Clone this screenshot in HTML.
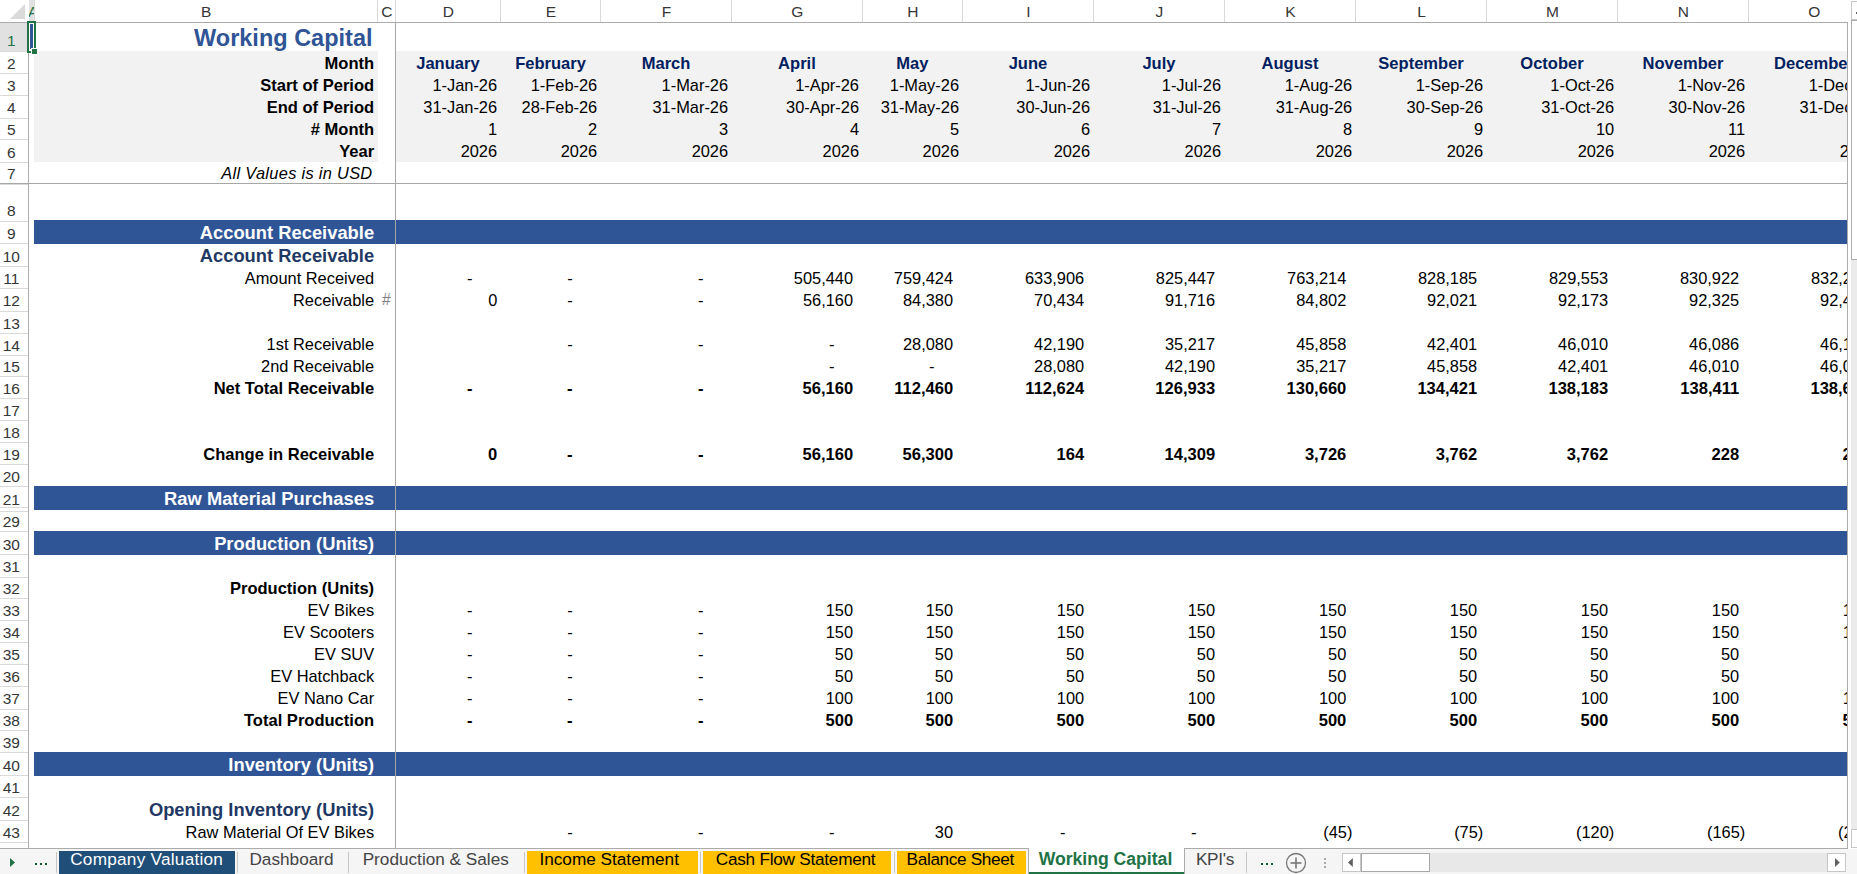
<!DOCTYPE html>
<html><head><meta charset="utf-8"><title>Working Capital</title>
<style>
html,body{margin:0;padding:0;background:#fff;}
body{width:1857px;height:874px;position:relative;overflow:hidden;font-family:"Liberation Sans",sans-serif;}
.r{position:absolute;box-sizing:border-box;}
.t{position:absolute;white-space:nowrap;overflow:visible;}
#cells{position:absolute;left:0;top:0;width:1847.4px;height:848.2px;overflow:hidden;}
.h{position:absolute;text-align:center;font-size:15.5px;line-height:17px;color:#363636;white-space:nowrap;}
.rh{position:absolute;left:0;width:22.6px;text-align:center;font-size:15.5px;line-height:17px;}
.tab{position:absolute;top:850px;text-align:center;font-size:17.2px;line-height:19px;white-space:nowrap;}
</style></head><body>
<div id="cells">
<div class="r" style="left:34.00px;top:51.10px;width:343.50px;height:110.60px;background:#f2f2f2;"></div>
<div class="r" style="left:396.00px;top:51.10px;width:1451.40px;height:110.60px;background:#f2f2f2;"></div>
<div class="r" style="left:34.00px;top:220.00px;width:1813.40px;height:24.00px;background:#2f5597;"></div>
<div class="r" style="left:34.00px;top:486.00px;width:1813.40px;height:24.00px;background:#2f5597;"></div>
<div class="r" style="left:34.00px;top:531.00px;width:1813.40px;height:24.00px;background:#2f5597;"></div>
<div class="r" style="left:34.00px;top:752.00px;width:1813.40px;height:24.00px;background:#2f5597;"></div>
<div class="t" style="left:34.00px;width:343.50px;top:24.53px;font-size:23.5px;line-height:27.02px;color:#2f5597;font-weight:bold;text-align:right;padding-right:5.0px;box-sizing:border-box;">Working Capital</div>
<div class="t" style="left:34.00px;width:343.50px;top:53.72px;font-size:16.55px;line-height:19.03px;color:#000;font-weight:bold;text-align:right;padding-right:3.4px;box-sizing:border-box;">Month</div>
<div class="t" style="left:34.00px;width:343.50px;top:76.02px;font-size:16.55px;line-height:19.03px;color:#000;font-weight:bold;text-align:right;padding-right:3.4px;box-sizing:border-box;">Start of Period</div>
<div class="t" style="left:34.00px;width:343.50px;top:98.12px;font-size:16.55px;line-height:19.03px;color:#000;font-weight:bold;text-align:right;padding-right:3.4px;box-sizing:border-box;">End of Period</div>
<div class="t" style="left:34.00px;width:343.50px;top:120.02px;font-size:16.55px;line-height:19.03px;color:#000;font-weight:bold;text-align:right;padding-right:3.4px;box-sizing:border-box;"># Month</div>
<div class="t" style="left:34.00px;width:343.50px;top:142.22px;font-size:16.55px;line-height:19.03px;color:#000;font-weight:bold;text-align:right;padding-right:3.4px;box-sizing:border-box;">Year</div>
<div class="t" style="left:34.00px;width:343.50px;top:164.26px;font-size:16.4px;line-height:18.86px;color:#000;font-style:italic;text-align:right;padding-right:5px;box-sizing:border-box;letter-spacing:0.3px;">All Values is in USD</div>
<div class="t" style="left:395.40px;width:105.10px;top:53.72px;font-size:16.55px;line-height:19.03px;color:#002060;font-weight:bold;text-align:center;">January</div>
<div class="t" style="left:395.40px;width:105.10px;top:76.16px;font-size:16.4px;line-height:18.86px;color:#000;text-align:right;padding-right:3.4px;box-sizing:border-box;">1-Jan-26</div>
<div class="t" style="left:395.40px;width:105.10px;top:98.26px;font-size:16.4px;line-height:18.86px;color:#000;text-align:right;padding-right:3.4px;box-sizing:border-box;">31-Jan-26</div>
<div class="t" style="left:395.40px;width:105.10px;top:120.16px;font-size:16.4px;line-height:18.86px;color:#000;text-align:right;padding-right:3.4px;box-sizing:border-box;">1</div>
<div class="t" style="left:395.40px;width:105.10px;top:142.36px;font-size:16.4px;line-height:18.86px;color:#000;text-align:right;padding-right:3.4px;box-sizing:border-box;">2026</div>
<div class="t" style="left:500.50px;width:100.10px;top:53.72px;font-size:16.55px;line-height:19.03px;color:#002060;font-weight:bold;text-align:center;">February</div>
<div class="t" style="left:500.50px;width:100.10px;top:76.16px;font-size:16.4px;line-height:18.86px;color:#000;text-align:right;padding-right:3.4px;box-sizing:border-box;">1-Feb-26</div>
<div class="t" style="left:500.50px;width:100.10px;top:98.26px;font-size:16.4px;line-height:18.86px;color:#000;text-align:right;padding-right:3.4px;box-sizing:border-box;">28-Feb-26</div>
<div class="t" style="left:500.50px;width:100.10px;top:120.16px;font-size:16.4px;line-height:18.86px;color:#000;text-align:right;padding-right:3.4px;box-sizing:border-box;">2</div>
<div class="t" style="left:500.50px;width:100.10px;top:142.36px;font-size:16.4px;line-height:18.86px;color:#000;text-align:right;padding-right:3.4px;box-sizing:border-box;">2026</div>
<div class="t" style="left:600.60px;width:130.90px;top:53.72px;font-size:16.55px;line-height:19.03px;color:#002060;font-weight:bold;text-align:center;">March</div>
<div class="t" style="left:600.60px;width:130.90px;top:76.16px;font-size:16.4px;line-height:18.86px;color:#000;text-align:right;padding-right:3.4px;box-sizing:border-box;">1-Mar-26</div>
<div class="t" style="left:600.60px;width:130.90px;top:98.26px;font-size:16.4px;line-height:18.86px;color:#000;text-align:right;padding-right:3.4px;box-sizing:border-box;">31-Mar-26</div>
<div class="t" style="left:600.60px;width:130.90px;top:120.16px;font-size:16.4px;line-height:18.86px;color:#000;text-align:right;padding-right:3.4px;box-sizing:border-box;">3</div>
<div class="t" style="left:600.60px;width:130.90px;top:142.36px;font-size:16.4px;line-height:18.86px;color:#000;text-align:right;padding-right:3.4px;box-sizing:border-box;">2026</div>
<div class="t" style="left:731.50px;width:130.90px;top:53.72px;font-size:16.55px;line-height:19.03px;color:#002060;font-weight:bold;text-align:center;">April</div>
<div class="t" style="left:731.50px;width:130.90px;top:76.16px;font-size:16.4px;line-height:18.86px;color:#000;text-align:right;padding-right:3.4px;box-sizing:border-box;">1-Apr-26</div>
<div class="t" style="left:731.50px;width:130.90px;top:98.26px;font-size:16.4px;line-height:18.86px;color:#000;text-align:right;padding-right:3.4px;box-sizing:border-box;">30-Apr-26</div>
<div class="t" style="left:731.50px;width:130.90px;top:120.16px;font-size:16.4px;line-height:18.86px;color:#000;text-align:right;padding-right:3.4px;box-sizing:border-box;">4</div>
<div class="t" style="left:731.50px;width:130.90px;top:142.36px;font-size:16.4px;line-height:18.86px;color:#000;text-align:right;padding-right:3.4px;box-sizing:border-box;">2026</div>
<div class="t" style="left:862.40px;width:100.00px;top:53.72px;font-size:16.55px;line-height:19.03px;color:#002060;font-weight:bold;text-align:center;">May</div>
<div class="t" style="left:862.40px;width:100.00px;top:76.16px;font-size:16.4px;line-height:18.86px;color:#000;text-align:right;padding-right:3.4px;box-sizing:border-box;">1-May-26</div>
<div class="t" style="left:862.40px;width:100.00px;top:98.26px;font-size:16.4px;line-height:18.86px;color:#000;text-align:right;padding-right:3.4px;box-sizing:border-box;">31-May-26</div>
<div class="t" style="left:862.40px;width:100.00px;top:120.16px;font-size:16.4px;line-height:18.86px;color:#000;text-align:right;padding-right:3.4px;box-sizing:border-box;">5</div>
<div class="t" style="left:862.40px;width:100.00px;top:142.36px;font-size:16.4px;line-height:18.86px;color:#000;text-align:right;padding-right:3.4px;box-sizing:border-box;">2026</div>
<div class="t" style="left:962.40px;width:131.10px;top:53.72px;font-size:16.55px;line-height:19.03px;color:#002060;font-weight:bold;text-align:center;">June</div>
<div class="t" style="left:962.40px;width:131.10px;top:76.16px;font-size:16.4px;line-height:18.86px;color:#000;text-align:right;padding-right:3.4px;box-sizing:border-box;">1-Jun-26</div>
<div class="t" style="left:962.40px;width:131.10px;top:98.26px;font-size:16.4px;line-height:18.86px;color:#000;text-align:right;padding-right:3.4px;box-sizing:border-box;">30-Jun-26</div>
<div class="t" style="left:962.40px;width:131.10px;top:120.16px;font-size:16.4px;line-height:18.86px;color:#000;text-align:right;padding-right:3.4px;box-sizing:border-box;">6</div>
<div class="t" style="left:962.40px;width:131.10px;top:142.36px;font-size:16.4px;line-height:18.86px;color:#000;text-align:right;padding-right:3.4px;box-sizing:border-box;">2026</div>
<div class="t" style="left:1093.50px;width:130.90px;top:53.72px;font-size:16.55px;line-height:19.03px;color:#002060;font-weight:bold;text-align:center;">July</div>
<div class="t" style="left:1093.50px;width:130.90px;top:76.16px;font-size:16.4px;line-height:18.86px;color:#000;text-align:right;padding-right:3.4px;box-sizing:border-box;">1-Jul-26</div>
<div class="t" style="left:1093.50px;width:130.90px;top:98.26px;font-size:16.4px;line-height:18.86px;color:#000;text-align:right;padding-right:3.4px;box-sizing:border-box;">31-Jul-26</div>
<div class="t" style="left:1093.50px;width:130.90px;top:120.16px;font-size:16.4px;line-height:18.86px;color:#000;text-align:right;padding-right:3.4px;box-sizing:border-box;">7</div>
<div class="t" style="left:1093.50px;width:130.90px;top:142.36px;font-size:16.4px;line-height:18.86px;color:#000;text-align:right;padding-right:3.4px;box-sizing:border-box;">2026</div>
<div class="t" style="left:1224.40px;width:131.20px;top:53.72px;font-size:16.55px;line-height:19.03px;color:#002060;font-weight:bold;text-align:center;">August</div>
<div class="t" style="left:1224.40px;width:131.20px;top:76.16px;font-size:16.4px;line-height:18.86px;color:#000;text-align:right;padding-right:3.4px;box-sizing:border-box;">1-Aug-26</div>
<div class="t" style="left:1224.40px;width:131.20px;top:98.26px;font-size:16.4px;line-height:18.86px;color:#000;text-align:right;padding-right:3.4px;box-sizing:border-box;">31-Aug-26</div>
<div class="t" style="left:1224.40px;width:131.20px;top:120.16px;font-size:16.4px;line-height:18.86px;color:#000;text-align:right;padding-right:3.4px;box-sizing:border-box;">8</div>
<div class="t" style="left:1224.40px;width:131.20px;top:142.36px;font-size:16.4px;line-height:18.86px;color:#000;text-align:right;padding-right:3.4px;box-sizing:border-box;">2026</div>
<div class="t" style="left:1355.60px;width:130.90px;top:53.72px;font-size:16.55px;line-height:19.03px;color:#002060;font-weight:bold;text-align:center;">September</div>
<div class="t" style="left:1355.60px;width:130.90px;top:76.16px;font-size:16.4px;line-height:18.86px;color:#000;text-align:right;padding-right:3.4px;box-sizing:border-box;">1-Sep-26</div>
<div class="t" style="left:1355.60px;width:130.90px;top:98.26px;font-size:16.4px;line-height:18.86px;color:#000;text-align:right;padding-right:3.4px;box-sizing:border-box;">30-Sep-26</div>
<div class="t" style="left:1355.60px;width:130.90px;top:120.16px;font-size:16.4px;line-height:18.86px;color:#000;text-align:right;padding-right:3.4px;box-sizing:border-box;">9</div>
<div class="t" style="left:1355.60px;width:130.90px;top:142.36px;font-size:16.4px;line-height:18.86px;color:#000;text-align:right;padding-right:3.4px;box-sizing:border-box;">2026</div>
<div class="t" style="left:1486.50px;width:131.00px;top:53.72px;font-size:16.55px;line-height:19.03px;color:#002060;font-weight:bold;text-align:center;">October</div>
<div class="t" style="left:1486.50px;width:131.00px;top:76.16px;font-size:16.4px;line-height:18.86px;color:#000;text-align:right;padding-right:3.4px;box-sizing:border-box;">1-Oct-26</div>
<div class="t" style="left:1486.50px;width:131.00px;top:98.26px;font-size:16.4px;line-height:18.86px;color:#000;text-align:right;padding-right:3.4px;box-sizing:border-box;">31-Oct-26</div>
<div class="t" style="left:1486.50px;width:131.00px;top:120.16px;font-size:16.4px;line-height:18.86px;color:#000;text-align:right;padding-right:3.4px;box-sizing:border-box;">10</div>
<div class="t" style="left:1486.50px;width:131.00px;top:142.36px;font-size:16.4px;line-height:18.86px;color:#000;text-align:right;padding-right:3.4px;box-sizing:border-box;">2026</div>
<div class="t" style="left:1617.50px;width:131.00px;top:53.72px;font-size:16.55px;line-height:19.03px;color:#002060;font-weight:bold;text-align:center;">November</div>
<div class="t" style="left:1617.50px;width:131.00px;top:76.16px;font-size:16.4px;line-height:18.86px;color:#000;text-align:right;padding-right:3.4px;box-sizing:border-box;">1-Nov-26</div>
<div class="t" style="left:1617.50px;width:131.00px;top:98.26px;font-size:16.4px;line-height:18.86px;color:#000;text-align:right;padding-right:3.4px;box-sizing:border-box;">30-Nov-26</div>
<div class="t" style="left:1617.50px;width:131.00px;top:120.16px;font-size:16.4px;line-height:18.86px;color:#000;text-align:right;padding-right:3.4px;box-sizing:border-box;">11</div>
<div class="t" style="left:1617.50px;width:131.00px;top:142.36px;font-size:16.4px;line-height:18.86px;color:#000;text-align:right;padding-right:3.4px;box-sizing:border-box;">2026</div>
<div class="t" style="left:1748.50px;width:131.00px;top:53.72px;font-size:16.55px;line-height:19.03px;color:#002060;font-weight:bold;text-align:center;">December</div>
<div class="t" style="left:1748.50px;width:131.00px;top:76.16px;font-size:16.4px;line-height:18.86px;color:#000;text-align:right;padding-right:3.4px;box-sizing:border-box;">1-Dec-26</div>
<div class="t" style="left:1748.50px;width:131.00px;top:98.26px;font-size:16.4px;line-height:18.86px;color:#000;text-align:right;padding-right:3.4px;box-sizing:border-box;">31-Dec-26</div>
<div class="t" style="left:1748.50px;width:131.00px;top:120.16px;font-size:16.4px;line-height:18.86px;color:#000;text-align:right;padding-right:3.4px;box-sizing:border-box;">12</div>
<div class="t" style="left:1748.50px;width:131.00px;top:142.36px;font-size:16.4px;line-height:18.86px;color:#000;text-align:right;padding-right:3.4px;box-sizing:border-box;">2026</div>
<div class="t" style="left:34.00px;width:343.50px;top:222.29px;font-size:18.35px;line-height:21.10px;color:#fff;font-weight:bold;text-align:right;padding-right:3.4px;box-sizing:border-box;">Account Receivable</div>
<div class="t" style="left:34.00px;width:343.50px;top:488.29px;font-size:18.35px;line-height:21.10px;color:#fff;font-weight:bold;text-align:right;padding-right:3.4px;box-sizing:border-box;">Raw Material Purchases</div>
<div class="t" style="left:34.00px;width:343.50px;top:533.39px;font-size:18.35px;line-height:21.10px;color:#fff;font-weight:bold;text-align:right;padding-right:3.4px;box-sizing:border-box;">Production (Units)</div>
<div class="t" style="left:34.00px;width:343.50px;top:753.79px;font-size:18.35px;line-height:21.10px;color:#fff;font-weight:bold;text-align:right;padding-right:3.4px;box-sizing:border-box;">Inventory (Units)</div>
<div class="t" style="left:34.00px;width:343.50px;top:244.99px;font-size:18.35px;line-height:21.10px;color:#1f3864;font-weight:bold;text-align:right;padding-right:3.4px;box-sizing:border-box;">Account Receivable</div>
<div class="t" style="left:34.00px;width:343.50px;top:798.89px;font-size:18.35px;line-height:21.10px;color:#1f3864;font-weight:bold;text-align:right;padding-right:3.4px;box-sizing:border-box;">Opening Inventory (Units)</div>
<div class="t" style="left:34.00px;width:343.50px;top:269.06px;font-size:16.4px;line-height:18.86px;color:#000;text-align:right;padding-right:3.4px;box-sizing:border-box;">Amount Received</div>
<div class="t" style="left:395.40px;width:105.10px;top:269.06px;font-size:16.4px;line-height:18.86px;color:#000;text-align:right;padding-right:28.0px;box-sizing:border-box;">-</div>
<div class="t" style="left:500.50px;width:100.10px;top:269.06px;font-size:16.4px;line-height:18.86px;color:#000;text-align:right;padding-right:28.0px;box-sizing:border-box;">-</div>
<div class="t" style="left:600.60px;width:130.90px;top:269.06px;font-size:16.4px;line-height:18.86px;color:#000;text-align:right;padding-right:28.0px;box-sizing:border-box;">-</div>
<div class="t" style="left:731.50px;width:130.90px;top:269.06px;font-size:16.4px;line-height:18.86px;color:#000;text-align:right;padding-right:9.3px;box-sizing:border-box;">505,440</div>
<div class="t" style="left:862.40px;width:100.00px;top:269.06px;font-size:16.4px;line-height:18.86px;color:#000;text-align:right;padding-right:9.3px;box-sizing:border-box;">759,424</div>
<div class="t" style="left:962.40px;width:131.10px;top:269.06px;font-size:16.4px;line-height:18.86px;color:#000;text-align:right;padding-right:9.3px;box-sizing:border-box;">633,906</div>
<div class="t" style="left:1093.50px;width:130.90px;top:269.06px;font-size:16.4px;line-height:18.86px;color:#000;text-align:right;padding-right:9.3px;box-sizing:border-box;">825,447</div>
<div class="t" style="left:1224.40px;width:131.20px;top:269.06px;font-size:16.4px;line-height:18.86px;color:#000;text-align:right;padding-right:9.3px;box-sizing:border-box;">763,214</div>
<div class="t" style="left:1355.60px;width:130.90px;top:269.06px;font-size:16.4px;line-height:18.86px;color:#000;text-align:right;padding-right:9.3px;box-sizing:border-box;">828,185</div>
<div class="t" style="left:1486.50px;width:131.00px;top:269.06px;font-size:16.4px;line-height:18.86px;color:#000;text-align:right;padding-right:9.3px;box-sizing:border-box;">829,553</div>
<div class="t" style="left:1617.50px;width:131.00px;top:269.06px;font-size:16.4px;line-height:18.86px;color:#000;text-align:right;padding-right:9.3px;box-sizing:border-box;">830,922</div>
<div class="t" style="left:1748.50px;width:131.00px;top:269.06px;font-size:16.4px;line-height:18.86px;color:#000;text-align:right;padding-right:9.3px;box-sizing:border-box;">832,291</div>
<div class="t" style="left:34.00px;width:343.50px;top:291.26px;font-size:16.4px;line-height:18.86px;color:#000;text-align:right;padding-right:3.4px;box-sizing:border-box;">Receivable</div>
<div class="t" style="left:395.40px;width:105.10px;top:291.26px;font-size:16.4px;line-height:18.86px;color:#000;text-align:right;padding-right:3.2px;box-sizing:border-box;">0</div>
<div class="t" style="left:500.50px;width:100.10px;top:291.26px;font-size:16.4px;line-height:18.86px;color:#000;text-align:right;padding-right:28.0px;box-sizing:border-box;">-</div>
<div class="t" style="left:600.60px;width:130.90px;top:291.26px;font-size:16.4px;line-height:18.86px;color:#000;text-align:right;padding-right:28.0px;box-sizing:border-box;">-</div>
<div class="t" style="left:731.50px;width:130.90px;top:291.26px;font-size:16.4px;line-height:18.86px;color:#000;text-align:right;padding-right:9.3px;box-sizing:border-box;">56,160</div>
<div class="t" style="left:862.40px;width:100.00px;top:291.26px;font-size:16.4px;line-height:18.86px;color:#000;text-align:right;padding-right:9.3px;box-sizing:border-box;">84,380</div>
<div class="t" style="left:962.40px;width:131.10px;top:291.26px;font-size:16.4px;line-height:18.86px;color:#000;text-align:right;padding-right:9.3px;box-sizing:border-box;">70,434</div>
<div class="t" style="left:1093.50px;width:130.90px;top:291.26px;font-size:16.4px;line-height:18.86px;color:#000;text-align:right;padding-right:9.3px;box-sizing:border-box;">91,716</div>
<div class="t" style="left:1224.40px;width:131.20px;top:291.26px;font-size:16.4px;line-height:18.86px;color:#000;text-align:right;padding-right:9.3px;box-sizing:border-box;">84,802</div>
<div class="t" style="left:1355.60px;width:130.90px;top:291.26px;font-size:16.4px;line-height:18.86px;color:#000;text-align:right;padding-right:9.3px;box-sizing:border-box;">92,021</div>
<div class="t" style="left:1486.50px;width:131.00px;top:291.26px;font-size:16.4px;line-height:18.86px;color:#000;text-align:right;padding-right:9.3px;box-sizing:border-box;">92,173</div>
<div class="t" style="left:1617.50px;width:131.00px;top:291.26px;font-size:16.4px;line-height:18.86px;color:#000;text-align:right;padding-right:9.3px;box-sizing:border-box;">92,325</div>
<div class="t" style="left:1748.50px;width:131.00px;top:291.26px;font-size:16.4px;line-height:18.86px;color:#000;text-align:right;padding-right:9.3px;box-sizing:border-box;">92,477</div>
<div class="t" style="left:377.50px;width:17.90px;top:290.98px;font-size:15.6px;line-height:17.94px;color:#808080;text-align:left;padding-left:4.6px;box-sizing:border-box;">#</div>
<div class="t" style="left:34.00px;width:343.50px;top:335.36px;font-size:16.4px;line-height:18.86px;color:#000;text-align:right;padding-right:3.4px;box-sizing:border-box;">1st Receivable</div>
<div class="t" style="left:500.50px;width:100.10px;top:335.36px;font-size:16.4px;line-height:18.86px;color:#000;text-align:right;padding-right:28.0px;box-sizing:border-box;">-</div>
<div class="t" style="left:600.60px;width:130.90px;top:335.36px;font-size:16.4px;line-height:18.86px;color:#000;text-align:right;padding-right:28.0px;box-sizing:border-box;">-</div>
<div class="t" style="left:731.50px;width:130.90px;top:335.36px;font-size:16.4px;line-height:18.86px;color:#000;text-align:right;padding-right:28.0px;box-sizing:border-box;">-</div>
<div class="t" style="left:862.40px;width:100.00px;top:335.36px;font-size:16.4px;line-height:18.86px;color:#000;text-align:right;padding-right:9.3px;box-sizing:border-box;">28,080</div>
<div class="t" style="left:962.40px;width:131.10px;top:335.36px;font-size:16.4px;line-height:18.86px;color:#000;text-align:right;padding-right:9.3px;box-sizing:border-box;">42,190</div>
<div class="t" style="left:1093.50px;width:130.90px;top:335.36px;font-size:16.4px;line-height:18.86px;color:#000;text-align:right;padding-right:9.3px;box-sizing:border-box;">35,217</div>
<div class="t" style="left:1224.40px;width:131.20px;top:335.36px;font-size:16.4px;line-height:18.86px;color:#000;text-align:right;padding-right:9.3px;box-sizing:border-box;">45,858</div>
<div class="t" style="left:1355.60px;width:130.90px;top:335.36px;font-size:16.4px;line-height:18.86px;color:#000;text-align:right;padding-right:9.3px;box-sizing:border-box;">42,401</div>
<div class="t" style="left:1486.50px;width:131.00px;top:335.36px;font-size:16.4px;line-height:18.86px;color:#000;text-align:right;padding-right:9.3px;box-sizing:border-box;">46,010</div>
<div class="t" style="left:1617.50px;width:131.00px;top:335.36px;font-size:16.4px;line-height:18.86px;color:#000;text-align:right;padding-right:9.3px;box-sizing:border-box;">46,086</div>
<div class="t" style="left:1748.50px;width:131.00px;top:335.36px;font-size:16.4px;line-height:18.86px;color:#000;text-align:right;padding-right:9.3px;box-sizing:border-box;">46,162</div>
<div class="t" style="left:34.00px;width:343.50px;top:357.06px;font-size:16.4px;line-height:18.86px;color:#000;text-align:right;padding-right:3.4px;box-sizing:border-box;">2nd Receivable</div>
<div class="t" style="left:731.50px;width:130.90px;top:357.06px;font-size:16.4px;line-height:18.86px;color:#000;text-align:right;padding-right:28.0px;box-sizing:border-box;">-</div>
<div class="t" style="left:862.40px;width:100.00px;top:357.06px;font-size:16.4px;line-height:18.86px;color:#000;text-align:right;padding-right:28.0px;box-sizing:border-box;">-</div>
<div class="t" style="left:962.40px;width:131.10px;top:357.06px;font-size:16.4px;line-height:18.86px;color:#000;text-align:right;padding-right:9.3px;box-sizing:border-box;">28,080</div>
<div class="t" style="left:1093.50px;width:130.90px;top:357.06px;font-size:16.4px;line-height:18.86px;color:#000;text-align:right;padding-right:9.3px;box-sizing:border-box;">42,190</div>
<div class="t" style="left:1224.40px;width:131.20px;top:357.06px;font-size:16.4px;line-height:18.86px;color:#000;text-align:right;padding-right:9.3px;box-sizing:border-box;">35,217</div>
<div class="t" style="left:1355.60px;width:130.90px;top:357.06px;font-size:16.4px;line-height:18.86px;color:#000;text-align:right;padding-right:9.3px;box-sizing:border-box;">45,858</div>
<div class="t" style="left:1486.50px;width:131.00px;top:357.06px;font-size:16.4px;line-height:18.86px;color:#000;text-align:right;padding-right:9.3px;box-sizing:border-box;">42,401</div>
<div class="t" style="left:1617.50px;width:131.00px;top:357.06px;font-size:16.4px;line-height:18.86px;color:#000;text-align:right;padding-right:9.3px;box-sizing:border-box;">46,010</div>
<div class="t" style="left:1748.50px;width:131.00px;top:357.06px;font-size:16.4px;line-height:18.86px;color:#000;text-align:right;padding-right:9.3px;box-sizing:border-box;">46,086</div>
<div class="t" style="left:34.00px;width:343.50px;top:378.92px;font-size:16.55px;line-height:19.03px;color:#000;font-weight:bold;text-align:right;padding-right:3.4px;box-sizing:border-box;">Net Total Receivable</div>
<div class="t" style="left:395.40px;width:105.10px;top:378.92px;font-size:16.55px;line-height:19.03px;color:#000;font-weight:bold;text-align:right;padding-right:28.0px;box-sizing:border-box;">-</div>
<div class="t" style="left:500.50px;width:100.10px;top:378.92px;font-size:16.55px;line-height:19.03px;color:#000;font-weight:bold;text-align:right;padding-right:28.0px;box-sizing:border-box;">-</div>
<div class="t" style="left:600.60px;width:130.90px;top:378.92px;font-size:16.55px;line-height:19.03px;color:#000;font-weight:bold;text-align:right;padding-right:28.0px;box-sizing:border-box;">-</div>
<div class="t" style="left:731.50px;width:130.90px;top:378.92px;font-size:16.55px;line-height:19.03px;color:#000;font-weight:bold;text-align:right;padding-right:9.3px;box-sizing:border-box;">56,160</div>
<div class="t" style="left:862.40px;width:100.00px;top:378.92px;font-size:16.55px;line-height:19.03px;color:#000;font-weight:bold;text-align:right;padding-right:9.3px;box-sizing:border-box;">112,460</div>
<div class="t" style="left:962.40px;width:131.10px;top:378.92px;font-size:16.55px;line-height:19.03px;color:#000;font-weight:bold;text-align:right;padding-right:9.3px;box-sizing:border-box;">112,624</div>
<div class="t" style="left:1093.50px;width:130.90px;top:378.92px;font-size:16.55px;line-height:19.03px;color:#000;font-weight:bold;text-align:right;padding-right:9.3px;box-sizing:border-box;">126,933</div>
<div class="t" style="left:1224.40px;width:131.20px;top:378.92px;font-size:16.55px;line-height:19.03px;color:#000;font-weight:bold;text-align:right;padding-right:9.3px;box-sizing:border-box;">130,660</div>
<div class="t" style="left:1355.60px;width:130.90px;top:378.92px;font-size:16.55px;line-height:19.03px;color:#000;font-weight:bold;text-align:right;padding-right:9.3px;box-sizing:border-box;">134,421</div>
<div class="t" style="left:1486.50px;width:131.00px;top:378.92px;font-size:16.55px;line-height:19.03px;color:#000;font-weight:bold;text-align:right;padding-right:9.3px;box-sizing:border-box;">138,183</div>
<div class="t" style="left:1617.50px;width:131.00px;top:378.92px;font-size:16.55px;line-height:19.03px;color:#000;font-weight:bold;text-align:right;padding-right:9.3px;box-sizing:border-box;">138,411</div>
<div class="t" style="left:1748.50px;width:131.00px;top:378.92px;font-size:16.55px;line-height:19.03px;color:#000;font-weight:bold;text-align:right;padding-right:9.3px;box-sizing:border-box;">138,639</div>
<div class="t" style="left:34.00px;width:343.50px;top:444.72px;font-size:16.55px;line-height:19.03px;color:#000;font-weight:bold;text-align:right;padding-right:3.4px;box-sizing:border-box;">Change in Receivable</div>
<div class="t" style="left:395.40px;width:105.10px;top:444.72px;font-size:16.55px;line-height:19.03px;color:#000;font-weight:bold;text-align:right;padding-right:3.2px;box-sizing:border-box;">0</div>
<div class="t" style="left:500.50px;width:100.10px;top:444.72px;font-size:16.55px;line-height:19.03px;color:#000;font-weight:bold;text-align:right;padding-right:28.0px;box-sizing:border-box;">-</div>
<div class="t" style="left:600.60px;width:130.90px;top:444.72px;font-size:16.55px;line-height:19.03px;color:#000;font-weight:bold;text-align:right;padding-right:28.0px;box-sizing:border-box;">-</div>
<div class="t" style="left:731.50px;width:130.90px;top:444.72px;font-size:16.55px;line-height:19.03px;color:#000;font-weight:bold;text-align:right;padding-right:9.3px;box-sizing:border-box;">56,160</div>
<div class="t" style="left:862.40px;width:100.00px;top:444.72px;font-size:16.55px;line-height:19.03px;color:#000;font-weight:bold;text-align:right;padding-right:9.3px;box-sizing:border-box;">56,300</div>
<div class="t" style="left:962.40px;width:131.10px;top:444.72px;font-size:16.55px;line-height:19.03px;color:#000;font-weight:bold;text-align:right;padding-right:9.3px;box-sizing:border-box;">164</div>
<div class="t" style="left:1093.50px;width:130.90px;top:444.72px;font-size:16.55px;line-height:19.03px;color:#000;font-weight:bold;text-align:right;padding-right:9.3px;box-sizing:border-box;">14,309</div>
<div class="t" style="left:1224.40px;width:131.20px;top:444.72px;font-size:16.55px;line-height:19.03px;color:#000;font-weight:bold;text-align:right;padding-right:9.3px;box-sizing:border-box;">3,726</div>
<div class="t" style="left:1355.60px;width:130.90px;top:444.72px;font-size:16.55px;line-height:19.03px;color:#000;font-weight:bold;text-align:right;padding-right:9.3px;box-sizing:border-box;">3,762</div>
<div class="t" style="left:1486.50px;width:131.00px;top:444.72px;font-size:16.55px;line-height:19.03px;color:#000;font-weight:bold;text-align:right;padding-right:9.3px;box-sizing:border-box;">3,762</div>
<div class="t" style="left:1617.50px;width:131.00px;top:444.72px;font-size:16.55px;line-height:19.03px;color:#000;font-weight:bold;text-align:right;padding-right:9.3px;box-sizing:border-box;">228</div>
<div class="t" style="left:1748.50px;width:131.00px;top:444.72px;font-size:16.55px;line-height:19.03px;color:#000;font-weight:bold;text-align:right;padding-right:9.3px;box-sizing:border-box;">228</div>
<div class="t" style="left:34.00px;width:343.50px;top:578.82px;font-size:16.55px;line-height:19.03px;color:#000;font-weight:bold;text-align:right;padding-right:3.4px;box-sizing:border-box;">Production (Units)</div>
<div class="t" style="left:34.00px;width:343.50px;top:600.96px;font-size:16.4px;line-height:18.86px;color:#000;text-align:right;padding-right:3.4px;box-sizing:border-box;">EV Bikes</div>
<div class="t" style="left:395.40px;width:105.10px;top:600.96px;font-size:16.4px;line-height:18.86px;color:#000;text-align:right;padding-right:28.0px;box-sizing:border-box;">-</div>
<div class="t" style="left:500.50px;width:100.10px;top:600.96px;font-size:16.4px;line-height:18.86px;color:#000;text-align:right;padding-right:28.0px;box-sizing:border-box;">-</div>
<div class="t" style="left:600.60px;width:130.90px;top:600.96px;font-size:16.4px;line-height:18.86px;color:#000;text-align:right;padding-right:28.0px;box-sizing:border-box;">-</div>
<div class="t" style="left:731.50px;width:130.90px;top:600.96px;font-size:16.4px;line-height:18.86px;color:#000;text-align:right;padding-right:9.3px;box-sizing:border-box;">150</div>
<div class="t" style="left:862.40px;width:100.00px;top:600.96px;font-size:16.4px;line-height:18.86px;color:#000;text-align:right;padding-right:9.3px;box-sizing:border-box;">150</div>
<div class="t" style="left:962.40px;width:131.10px;top:600.96px;font-size:16.4px;line-height:18.86px;color:#000;text-align:right;padding-right:9.3px;box-sizing:border-box;">150</div>
<div class="t" style="left:1093.50px;width:130.90px;top:600.96px;font-size:16.4px;line-height:18.86px;color:#000;text-align:right;padding-right:9.3px;box-sizing:border-box;">150</div>
<div class="t" style="left:1224.40px;width:131.20px;top:600.96px;font-size:16.4px;line-height:18.86px;color:#000;text-align:right;padding-right:9.3px;box-sizing:border-box;">150</div>
<div class="t" style="left:1355.60px;width:130.90px;top:600.96px;font-size:16.4px;line-height:18.86px;color:#000;text-align:right;padding-right:9.3px;box-sizing:border-box;">150</div>
<div class="t" style="left:1486.50px;width:131.00px;top:600.96px;font-size:16.4px;line-height:18.86px;color:#000;text-align:right;padding-right:9.3px;box-sizing:border-box;">150</div>
<div class="t" style="left:1617.50px;width:131.00px;top:600.96px;font-size:16.4px;line-height:18.86px;color:#000;text-align:right;padding-right:9.3px;box-sizing:border-box;">150</div>
<div class="t" style="left:1748.50px;width:131.00px;top:600.96px;font-size:16.4px;line-height:18.86px;color:#000;text-align:right;padding-right:9.3px;box-sizing:border-box;">150</div>
<div class="t" style="left:34.00px;width:343.50px;top:623.06px;font-size:16.4px;line-height:18.86px;color:#000;text-align:right;padding-right:3.4px;box-sizing:border-box;">EV Scooters</div>
<div class="t" style="left:395.40px;width:105.10px;top:623.06px;font-size:16.4px;line-height:18.86px;color:#000;text-align:right;padding-right:28.0px;box-sizing:border-box;">-</div>
<div class="t" style="left:500.50px;width:100.10px;top:623.06px;font-size:16.4px;line-height:18.86px;color:#000;text-align:right;padding-right:28.0px;box-sizing:border-box;">-</div>
<div class="t" style="left:600.60px;width:130.90px;top:623.06px;font-size:16.4px;line-height:18.86px;color:#000;text-align:right;padding-right:28.0px;box-sizing:border-box;">-</div>
<div class="t" style="left:731.50px;width:130.90px;top:623.06px;font-size:16.4px;line-height:18.86px;color:#000;text-align:right;padding-right:9.3px;box-sizing:border-box;">150</div>
<div class="t" style="left:862.40px;width:100.00px;top:623.06px;font-size:16.4px;line-height:18.86px;color:#000;text-align:right;padding-right:9.3px;box-sizing:border-box;">150</div>
<div class="t" style="left:962.40px;width:131.10px;top:623.06px;font-size:16.4px;line-height:18.86px;color:#000;text-align:right;padding-right:9.3px;box-sizing:border-box;">150</div>
<div class="t" style="left:1093.50px;width:130.90px;top:623.06px;font-size:16.4px;line-height:18.86px;color:#000;text-align:right;padding-right:9.3px;box-sizing:border-box;">150</div>
<div class="t" style="left:1224.40px;width:131.20px;top:623.06px;font-size:16.4px;line-height:18.86px;color:#000;text-align:right;padding-right:9.3px;box-sizing:border-box;">150</div>
<div class="t" style="left:1355.60px;width:130.90px;top:623.06px;font-size:16.4px;line-height:18.86px;color:#000;text-align:right;padding-right:9.3px;box-sizing:border-box;">150</div>
<div class="t" style="left:1486.50px;width:131.00px;top:623.06px;font-size:16.4px;line-height:18.86px;color:#000;text-align:right;padding-right:9.3px;box-sizing:border-box;">150</div>
<div class="t" style="left:1617.50px;width:131.00px;top:623.06px;font-size:16.4px;line-height:18.86px;color:#000;text-align:right;padding-right:9.3px;box-sizing:border-box;">150</div>
<div class="t" style="left:1748.50px;width:131.00px;top:623.06px;font-size:16.4px;line-height:18.86px;color:#000;text-align:right;padding-right:9.3px;box-sizing:border-box;">150</div>
<div class="t" style="left:34.00px;width:343.50px;top:645.06px;font-size:16.4px;line-height:18.86px;color:#000;text-align:right;padding-right:3.4px;box-sizing:border-box;">EV SUV</div>
<div class="t" style="left:395.40px;width:105.10px;top:645.06px;font-size:16.4px;line-height:18.86px;color:#000;text-align:right;padding-right:28.0px;box-sizing:border-box;">-</div>
<div class="t" style="left:500.50px;width:100.10px;top:645.06px;font-size:16.4px;line-height:18.86px;color:#000;text-align:right;padding-right:28.0px;box-sizing:border-box;">-</div>
<div class="t" style="left:600.60px;width:130.90px;top:645.06px;font-size:16.4px;line-height:18.86px;color:#000;text-align:right;padding-right:28.0px;box-sizing:border-box;">-</div>
<div class="t" style="left:731.50px;width:130.90px;top:645.06px;font-size:16.4px;line-height:18.86px;color:#000;text-align:right;padding-right:9.3px;box-sizing:border-box;">50</div>
<div class="t" style="left:862.40px;width:100.00px;top:645.06px;font-size:16.4px;line-height:18.86px;color:#000;text-align:right;padding-right:9.3px;box-sizing:border-box;">50</div>
<div class="t" style="left:962.40px;width:131.10px;top:645.06px;font-size:16.4px;line-height:18.86px;color:#000;text-align:right;padding-right:9.3px;box-sizing:border-box;">50</div>
<div class="t" style="left:1093.50px;width:130.90px;top:645.06px;font-size:16.4px;line-height:18.86px;color:#000;text-align:right;padding-right:9.3px;box-sizing:border-box;">50</div>
<div class="t" style="left:1224.40px;width:131.20px;top:645.06px;font-size:16.4px;line-height:18.86px;color:#000;text-align:right;padding-right:9.3px;box-sizing:border-box;">50</div>
<div class="t" style="left:1355.60px;width:130.90px;top:645.06px;font-size:16.4px;line-height:18.86px;color:#000;text-align:right;padding-right:9.3px;box-sizing:border-box;">50</div>
<div class="t" style="left:1486.50px;width:131.00px;top:645.06px;font-size:16.4px;line-height:18.86px;color:#000;text-align:right;padding-right:9.3px;box-sizing:border-box;">50</div>
<div class="t" style="left:1617.50px;width:131.00px;top:645.06px;font-size:16.4px;line-height:18.86px;color:#000;text-align:right;padding-right:9.3px;box-sizing:border-box;">50</div>
<div class="t" style="left:1748.50px;width:131.00px;top:645.06px;font-size:16.4px;line-height:18.86px;color:#000;text-align:right;padding-right:9.3px;box-sizing:border-box;">50</div>
<div class="t" style="left:34.00px;width:343.50px;top:667.16px;font-size:16.4px;line-height:18.86px;color:#000;text-align:right;padding-right:3.4px;box-sizing:border-box;">EV Hatchback</div>
<div class="t" style="left:395.40px;width:105.10px;top:667.16px;font-size:16.4px;line-height:18.86px;color:#000;text-align:right;padding-right:28.0px;box-sizing:border-box;">-</div>
<div class="t" style="left:500.50px;width:100.10px;top:667.16px;font-size:16.4px;line-height:18.86px;color:#000;text-align:right;padding-right:28.0px;box-sizing:border-box;">-</div>
<div class="t" style="left:600.60px;width:130.90px;top:667.16px;font-size:16.4px;line-height:18.86px;color:#000;text-align:right;padding-right:28.0px;box-sizing:border-box;">-</div>
<div class="t" style="left:731.50px;width:130.90px;top:667.16px;font-size:16.4px;line-height:18.86px;color:#000;text-align:right;padding-right:9.3px;box-sizing:border-box;">50</div>
<div class="t" style="left:862.40px;width:100.00px;top:667.16px;font-size:16.4px;line-height:18.86px;color:#000;text-align:right;padding-right:9.3px;box-sizing:border-box;">50</div>
<div class="t" style="left:962.40px;width:131.10px;top:667.16px;font-size:16.4px;line-height:18.86px;color:#000;text-align:right;padding-right:9.3px;box-sizing:border-box;">50</div>
<div class="t" style="left:1093.50px;width:130.90px;top:667.16px;font-size:16.4px;line-height:18.86px;color:#000;text-align:right;padding-right:9.3px;box-sizing:border-box;">50</div>
<div class="t" style="left:1224.40px;width:131.20px;top:667.16px;font-size:16.4px;line-height:18.86px;color:#000;text-align:right;padding-right:9.3px;box-sizing:border-box;">50</div>
<div class="t" style="left:1355.60px;width:130.90px;top:667.16px;font-size:16.4px;line-height:18.86px;color:#000;text-align:right;padding-right:9.3px;box-sizing:border-box;">50</div>
<div class="t" style="left:1486.50px;width:131.00px;top:667.16px;font-size:16.4px;line-height:18.86px;color:#000;text-align:right;padding-right:9.3px;box-sizing:border-box;">50</div>
<div class="t" style="left:1617.50px;width:131.00px;top:667.16px;font-size:16.4px;line-height:18.86px;color:#000;text-align:right;padding-right:9.3px;box-sizing:border-box;">50</div>
<div class="t" style="left:1748.50px;width:131.00px;top:667.16px;font-size:16.4px;line-height:18.86px;color:#000;text-align:right;padding-right:9.3px;box-sizing:border-box;">50</div>
<div class="t" style="left:34.00px;width:343.50px;top:689.26px;font-size:16.4px;line-height:18.86px;color:#000;text-align:right;padding-right:3.4px;box-sizing:border-box;">EV Nano Car</div>
<div class="t" style="left:395.40px;width:105.10px;top:689.26px;font-size:16.4px;line-height:18.86px;color:#000;text-align:right;padding-right:28.0px;box-sizing:border-box;">-</div>
<div class="t" style="left:500.50px;width:100.10px;top:689.26px;font-size:16.4px;line-height:18.86px;color:#000;text-align:right;padding-right:28.0px;box-sizing:border-box;">-</div>
<div class="t" style="left:600.60px;width:130.90px;top:689.26px;font-size:16.4px;line-height:18.86px;color:#000;text-align:right;padding-right:28.0px;box-sizing:border-box;">-</div>
<div class="t" style="left:731.50px;width:130.90px;top:689.26px;font-size:16.4px;line-height:18.86px;color:#000;text-align:right;padding-right:9.3px;box-sizing:border-box;">100</div>
<div class="t" style="left:862.40px;width:100.00px;top:689.26px;font-size:16.4px;line-height:18.86px;color:#000;text-align:right;padding-right:9.3px;box-sizing:border-box;">100</div>
<div class="t" style="left:962.40px;width:131.10px;top:689.26px;font-size:16.4px;line-height:18.86px;color:#000;text-align:right;padding-right:9.3px;box-sizing:border-box;">100</div>
<div class="t" style="left:1093.50px;width:130.90px;top:689.26px;font-size:16.4px;line-height:18.86px;color:#000;text-align:right;padding-right:9.3px;box-sizing:border-box;">100</div>
<div class="t" style="left:1224.40px;width:131.20px;top:689.26px;font-size:16.4px;line-height:18.86px;color:#000;text-align:right;padding-right:9.3px;box-sizing:border-box;">100</div>
<div class="t" style="left:1355.60px;width:130.90px;top:689.26px;font-size:16.4px;line-height:18.86px;color:#000;text-align:right;padding-right:9.3px;box-sizing:border-box;">100</div>
<div class="t" style="left:1486.50px;width:131.00px;top:689.26px;font-size:16.4px;line-height:18.86px;color:#000;text-align:right;padding-right:9.3px;box-sizing:border-box;">100</div>
<div class="t" style="left:1617.50px;width:131.00px;top:689.26px;font-size:16.4px;line-height:18.86px;color:#000;text-align:right;padding-right:9.3px;box-sizing:border-box;">100</div>
<div class="t" style="left:1748.50px;width:131.00px;top:689.26px;font-size:16.4px;line-height:18.86px;color:#000;text-align:right;padding-right:9.3px;box-sizing:border-box;">100</div>
<div class="t" style="left:34.00px;width:343.50px;top:710.92px;font-size:16.55px;line-height:19.03px;color:#000;font-weight:bold;text-align:right;padding-right:3.4px;box-sizing:border-box;">Total Production</div>
<div class="t" style="left:395.40px;width:105.10px;top:710.92px;font-size:16.55px;line-height:19.03px;color:#000;font-weight:bold;text-align:right;padding-right:28.0px;box-sizing:border-box;">-</div>
<div class="t" style="left:500.50px;width:100.10px;top:710.92px;font-size:16.55px;line-height:19.03px;color:#000;font-weight:bold;text-align:right;padding-right:28.0px;box-sizing:border-box;">-</div>
<div class="t" style="left:600.60px;width:130.90px;top:710.92px;font-size:16.55px;line-height:19.03px;color:#000;font-weight:bold;text-align:right;padding-right:28.0px;box-sizing:border-box;">-</div>
<div class="t" style="left:731.50px;width:130.90px;top:710.92px;font-size:16.55px;line-height:19.03px;color:#000;font-weight:bold;text-align:right;padding-right:9.3px;box-sizing:border-box;">500</div>
<div class="t" style="left:862.40px;width:100.00px;top:710.92px;font-size:16.55px;line-height:19.03px;color:#000;font-weight:bold;text-align:right;padding-right:9.3px;box-sizing:border-box;">500</div>
<div class="t" style="left:962.40px;width:131.10px;top:710.92px;font-size:16.55px;line-height:19.03px;color:#000;font-weight:bold;text-align:right;padding-right:9.3px;box-sizing:border-box;">500</div>
<div class="t" style="left:1093.50px;width:130.90px;top:710.92px;font-size:16.55px;line-height:19.03px;color:#000;font-weight:bold;text-align:right;padding-right:9.3px;box-sizing:border-box;">500</div>
<div class="t" style="left:1224.40px;width:131.20px;top:710.92px;font-size:16.55px;line-height:19.03px;color:#000;font-weight:bold;text-align:right;padding-right:9.3px;box-sizing:border-box;">500</div>
<div class="t" style="left:1355.60px;width:130.90px;top:710.92px;font-size:16.55px;line-height:19.03px;color:#000;font-weight:bold;text-align:right;padding-right:9.3px;box-sizing:border-box;">500</div>
<div class="t" style="left:1486.50px;width:131.00px;top:710.92px;font-size:16.55px;line-height:19.03px;color:#000;font-weight:bold;text-align:right;padding-right:9.3px;box-sizing:border-box;">500</div>
<div class="t" style="left:1617.50px;width:131.00px;top:710.92px;font-size:16.55px;line-height:19.03px;color:#000;font-weight:bold;text-align:right;padding-right:9.3px;box-sizing:border-box;">500</div>
<div class="t" style="left:1748.50px;width:131.00px;top:710.92px;font-size:16.55px;line-height:19.03px;color:#000;font-weight:bold;text-align:right;padding-right:9.3px;box-sizing:border-box;">500</div>
<div class="t" style="left:34.00px;width:343.50px;top:822.66px;font-size:16.4px;line-height:18.86px;color:#000;text-align:right;padding-right:3.4px;box-sizing:border-box;">Raw Material Of EV Bikes</div>
<div class="t" style="left:500.50px;width:100.10px;top:822.66px;font-size:16.4px;line-height:18.86px;color:#000;text-align:right;padding-right:28.0px;box-sizing:border-box;">-</div>
<div class="t" style="left:600.60px;width:130.90px;top:822.66px;font-size:16.4px;line-height:18.86px;color:#000;text-align:right;padding-right:28.0px;box-sizing:border-box;">-</div>
<div class="t" style="left:731.50px;width:130.90px;top:822.66px;font-size:16.4px;line-height:18.86px;color:#000;text-align:right;padding-right:28.0px;box-sizing:border-box;">-</div>
<div class="t" style="left:862.40px;width:100.00px;top:822.66px;font-size:16.4px;line-height:18.86px;color:#000;text-align:right;padding-right:9.3px;box-sizing:border-box;">30</div>
<div class="t" style="left:962.40px;width:131.10px;top:822.66px;font-size:16.4px;line-height:18.86px;color:#000;text-align:right;padding-right:28.0px;box-sizing:border-box;">-</div>
<div class="t" style="left:1093.50px;width:130.90px;top:822.66px;font-size:16.4px;line-height:18.86px;color:#000;text-align:right;padding-right:28.0px;box-sizing:border-box;">-</div>
<div class="t" style="left:1224.40px;width:131.20px;top:822.66px;font-size:16.4px;line-height:18.86px;color:#000;text-align:right;padding-right:3.2px;box-sizing:border-box;">(45)</div>
<div class="t" style="left:1355.60px;width:130.90px;top:822.66px;font-size:16.4px;line-height:18.86px;color:#000;text-align:right;padding-right:3.2px;box-sizing:border-box;">(75)</div>
<div class="t" style="left:1486.50px;width:131.00px;top:822.66px;font-size:16.4px;line-height:18.86px;color:#000;text-align:right;padding-right:3.2px;box-sizing:border-box;">(120)</div>
<div class="t" style="left:1617.50px;width:131.00px;top:822.66px;font-size:16.4px;line-height:18.86px;color:#000;text-align:right;padding-right:3.2px;box-sizing:border-box;">(165)</div>
<div class="t" style="left:1748.50px;width:131.00px;top:822.66px;font-size:16.4px;line-height:18.86px;color:#000;text-align:right;padding-right:3.2px;box-sizing:border-box;">(210)</div>
</div>
<div class="r" style="left:377.00px;top:0.00px;width:1.00px;height:22.00px;background:#dadada;"></div>
<div class="r" style="left:395.00px;top:0.00px;width:1.00px;height:22.00px;background:#dadada;"></div>
<div class="r" style="left:500.00px;top:0.00px;width:1.00px;height:22.00px;background:#dadada;"></div>
<div class="r" style="left:600.00px;top:0.00px;width:1.00px;height:22.00px;background:#dadada;"></div>
<div class="r" style="left:731.00px;top:0.00px;width:1.00px;height:22.00px;background:#dadada;"></div>
<div class="r" style="left:862.00px;top:0.00px;width:1.00px;height:22.00px;background:#dadada;"></div>
<div class="r" style="left:962.00px;top:0.00px;width:1.00px;height:22.00px;background:#dadada;"></div>
<div class="r" style="left:1093.00px;top:0.00px;width:1.00px;height:22.00px;background:#dadada;"></div>
<div class="r" style="left:1224.00px;top:0.00px;width:1.00px;height:22.00px;background:#dadada;"></div>
<div class="r" style="left:1355.00px;top:0.00px;width:1.00px;height:22.00px;background:#dadada;"></div>
<div class="r" style="left:1486.00px;top:0.00px;width:1.00px;height:22.00px;background:#dadada;"></div>
<div class="r" style="left:1617.00px;top:0.00px;width:1.00px;height:22.00px;background:#dadada;"></div>
<div class="r" style="left:1748.00px;top:0.00px;width:1.00px;height:22.00px;background:#dadada;"></div>
<div class="r" style="left:34.00px;top:0.00px;width:1.00px;height:22.00px;background:#dadada;"></div>
<div class="r" style="left:29.00px;top:0.00px;width:5.00px;height:22.00px;background:#e1e1e1;"></div>
<div class="h" style="left:34.40px;width:343.50px;top:3.2px;">B</div>
<div class="h" style="left:377.90px;width:17.90px;top:3.2px;">C</div>
<div class="h" style="left:395.80px;width:105.10px;top:3.2px;">D</div>
<div class="h" style="left:500.90px;width:100.10px;top:3.2px;">E</div>
<div class="h" style="left:601.00px;width:130.90px;top:3.2px;">F</div>
<div class="h" style="left:731.90px;width:130.90px;top:3.2px;">G</div>
<div class="h" style="left:862.80px;width:100.00px;top:3.2px;">H</div>
<div class="h" style="left:962.80px;width:131.10px;top:3.2px;">I</div>
<div class="h" style="left:1093.90px;width:130.90px;top:3.2px;">J</div>
<div class="h" style="left:1224.80px;width:131.20px;top:3.2px;">K</div>
<div class="h" style="left:1356.00px;width:130.90px;top:3.2px;">L</div>
<div class="h" style="left:1486.90px;width:131.00px;top:3.2px;">M</div>
<div class="h" style="left:1617.90px;width:131.00px;top:3.2px;">N</div>
<div class="h" style="left:1748.90px;width:131.00px;top:3.2px;">O</div>
<div class="h" style="left:29px;width:5px;top:3px;color:#217346;overflow:hidden;text-align:left;"><span style="margin-left:-1px">A</span></div>
<svg style="position:absolute;left:0;top:0" width="28" height="22"><polygon points="25,4 25,19 10,19" fill="#dadada"/></svg>
<div class="r" style="left:0.00px;top:22.00px;width:1847.40px;height:1.00px;background:#ababab;"></div>
<div class="r" style="left:0.00px;top:23.00px;width:28.00px;height:28.00px;background:#e1e1e1;"></div>
<div class="r" style="left:0.00px;top:51.00px;width:28.00px;height:1.00px;background:#dadada;"></div>
<div class="rh" style="top:31.70px;color:#217346">1</div>
<div class="r" style="left:0.00px;top:73.00px;width:28.00px;height:1.00px;background:#dadada;"></div>
<div class="rh" style="top:55.00px;color:#363636">2</div>
<div class="r" style="left:0.00px;top:95.00px;width:28.00px;height:1.00px;background:#dadada;"></div>
<div class="rh" style="top:77.30px;color:#363636">3</div>
<div class="r" style="left:0.00px;top:118.00px;width:28.00px;height:1.00px;background:#dadada;"></div>
<div class="rh" style="top:99.40px;color:#363636">4</div>
<div class="r" style="left:0.00px;top:139.00px;width:28.00px;height:1.00px;background:#dadada;"></div>
<div class="rh" style="top:121.30px;color:#363636">5</div>
<div class="r" style="left:0.00px;top:162.00px;width:28.00px;height:1.00px;background:#dadada;"></div>
<div class="rh" style="top:143.50px;color:#363636">6</div>
<div class="r" style="left:0.00px;top:184.00px;width:28.00px;height:1.00px;background:#dadada;"></div>
<div class="rh" style="top:165.40px;color:#363636">7</div>
<div class="r" style="left:0.00px;top:221.00px;width:28.00px;height:1.00px;background:#dadada;"></div>
<div class="rh" style="top:202.40px;color:#363636">8</div>
<div class="r" style="left:0.00px;top:243.00px;width:28.00px;height:1.00px;background:#dadada;"></div>
<div class="rh" style="top:225.20px;color:#363636">9</div>
<div class="r" style="left:0.00px;top:266.00px;width:28.00px;height:1.00px;background:#dadada;"></div>
<div class="rh" style="top:247.90px;color:#363636">10</div>
<div class="r" style="left:0.00px;top:288.00px;width:28.00px;height:1.00px;background:#dadada;"></div>
<div class="rh" style="top:270.20px;color:#363636">11</div>
<div class="r" style="left:0.00px;top:311.00px;width:28.00px;height:1.00px;background:#dadada;"></div>
<div class="rh" style="top:292.40px;color:#363636">12</div>
<div class="r" style="left:0.00px;top:333.00px;width:28.00px;height:1.00px;background:#dadada;"></div>
<div class="rh" style="top:314.60px;color:#363636">13</div>
<div class="r" style="left:0.00px;top:355.00px;width:28.00px;height:1.00px;background:#dadada;"></div>
<div class="rh" style="top:336.50px;color:#363636">14</div>
<div class="r" style="left:0.00px;top:376.00px;width:28.00px;height:1.00px;background:#dadada;"></div>
<div class="rh" style="top:358.20px;color:#363636">15</div>
<div class="r" style="left:0.00px;top:398.00px;width:28.00px;height:1.00px;background:#dadada;"></div>
<div class="rh" style="top:380.20px;color:#363636">16</div>
<div class="r" style="left:0.00px;top:420.00px;width:28.00px;height:1.00px;background:#dadada;"></div>
<div class="rh" style="top:402.00px;color:#363636">17</div>
<div class="r" style="left:0.00px;top:442.00px;width:28.00px;height:1.00px;background:#dadada;"></div>
<div class="rh" style="top:423.90px;color:#363636">18</div>
<div class="r" style="left:0.00px;top:464.00px;width:28.00px;height:1.00px;background:#dadada;"></div>
<div class="rh" style="top:446.00px;color:#363636">19</div>
<div class="r" style="left:0.00px;top:486.00px;width:28.00px;height:1.00px;background:#dadada;"></div>
<div class="rh" style="top:468.30px;color:#363636">20</div>
<div class="r" style="left:0.00px;top:507.00px;width:28.00px;height:1.00px;background:#dadada;"></div>
<div class="rh" style="top:491.40px;color:#363636">21</div>
<div class="r" style="left:0.00px;top:531.00px;width:28.00px;height:1.00px;background:#dadada;"></div>
<div class="rh" style="top:513.30px;color:#363636">29</div>
<div class="r" style="left:0.00px;top:554.00px;width:28.00px;height:1.00px;background:#dadada;"></div>
<div class="rh" style="top:536.30px;color:#363636">30</div>
<div class="r" style="left:0.00px;top:577.00px;width:28.00px;height:1.00px;background:#dadada;"></div>
<div class="rh" style="top:558.40px;color:#363636">31</div>
<div class="r" style="left:0.00px;top:598.00px;width:28.00px;height:1.00px;background:#dadada;"></div>
<div class="rh" style="top:580.10px;color:#363636">32</div>
<div class="r" style="left:0.00px;top:620.00px;width:28.00px;height:1.00px;background:#dadada;"></div>
<div class="rh" style="top:602.10px;color:#363636">33</div>
<div class="r" style="left:0.00px;top:642.00px;width:28.00px;height:1.00px;background:#dadada;"></div>
<div class="rh" style="top:624.20px;color:#363636">34</div>
<div class="r" style="left:0.00px;top:664.00px;width:28.00px;height:1.00px;background:#dadada;"></div>
<div class="rh" style="top:646.20px;color:#363636">35</div>
<div class="r" style="left:0.00px;top:686.00px;width:28.00px;height:1.00px;background:#dadada;"></div>
<div class="rh" style="top:668.30px;color:#363636">36</div>
<div class="r" style="left:0.00px;top:709.00px;width:28.00px;height:1.00px;background:#dadada;"></div>
<div class="rh" style="top:690.40px;color:#363636">37</div>
<div class="r" style="left:0.00px;top:730.00px;width:28.00px;height:1.00px;background:#dadada;"></div>
<div class="rh" style="top:712.20px;color:#363636">38</div>
<div class="r" style="left:0.00px;top:752.00px;width:28.00px;height:1.00px;background:#dadada;"></div>
<div class="rh" style="top:734.00px;color:#363636">39</div>
<div class="r" style="left:0.00px;top:775.00px;width:28.00px;height:1.00px;background:#dadada;"></div>
<div class="rh" style="top:756.70px;color:#363636">40</div>
<div class="r" style="left:0.00px;top:797.00px;width:28.00px;height:1.00px;background:#dadada;"></div>
<div class="rh" style="top:778.70px;color:#363636">41</div>
<div class="r" style="left:0.00px;top:820.00px;width:28.00px;height:1.00px;background:#dadada;"></div>
<div class="rh" style="top:801.80px;color:#363636">42</div>
<div class="r" style="left:0.00px;top:842.00px;width:28.00px;height:1.00px;background:#dadada;"></div>
<div class="rh" style="top:823.80px;color:#363636">43</div>
<div class="r" style="left:0.00px;top:511.00px;width:28.00px;height:1.00px;background:#dadada;"></div>
<div class="r" style="left:28.00px;top:22.00px;width:1.00px;height:826.20px;background:#ababab;"></div>
<div class="r" style="left:395.00px;top:22.00px;width:1.00px;height:826.20px;background:#a6a6a6;"></div>
<div class="r" style="left:0.00px;top:183.00px;width:1847.40px;height:1.00px;background:#a6a6a6;"></div>
<div class="r" style="left:1847.00px;top:22.00px;width:1.00px;height:826.20px;background:#ababab;"></div>
<div class="r" style="left:0.00px;top:848.00px;width:1848.00px;height:1.00px;background:#ababab;"></div>
<div class="r" style="left:27px;top:21px;width:9px;height:32px;border:2px solid #217346;"></div>
<div class="r" style="left:30.00px;top:24.00px;width:3.00px;height:24.00px;background:#2f5597;"></div>
<div class="r" style="left:30.00px;top:48.00px;width:1.00px;height:1.00px;background:#2f5597;"></div>
<div class="r" style="left:31.00px;top:48.00px;width:7.00px;height:7.00px;background:#fff;"></div>
<div class="r" style="left:32.00px;top:49.00px;width:5.00px;height:5.00px;background:#217346;"></div>
<div class="r" style="left:0;top:849px;width:1857px;height:25px;background:#f5f5f5"></div>
<svg style="position:absolute;left:0;top:849px" width="60" height="25"><polygon points="10,9 15,13.5 10,18" fill="#217346"/><rect x="35" y="14" width="2" height="2" fill="#0e5c2c"/><rect x="40" y="14" width="2" height="2" fill="#0e5c2c"/><rect x="45" y="14" width="2" height="2" fill="#0e5c2c"/></svg>
<div class="r" style="left:56.00px;top:852.00px;width:1.00px;height:21.00px;background:#c6c6c6;"></div>
<div class="r" style="left:237.00px;top:852.00px;width:1.00px;height:21.00px;background:#c6c6c6;"></div>
<div class="r" style="left:348.00px;top:852.00px;width:1.00px;height:21.00px;background:#c6c6c6;"></div>
<div class="r" style="left:524.00px;top:852.00px;width:1.00px;height:21.00px;background:#c6c6c6;"></div>
<div class="r" style="left:700.00px;top:852.00px;width:1.00px;height:21.00px;background:#c6c6c6;"></div>
<div class="r" style="left:894.00px;top:852.00px;width:1.00px;height:21.00px;background:#c6c6c6;"></div>
<div class="r" style="left:59.00px;top:851.20px;width:176.00px;height:22.80px;background:#1f4e79;"></div>
<div class="tab" style="left:58.7px;width:176px;color:#fff;letter-spacing:0.25px">Company Valuation</div>
<div class="tab" style="left:236.5px;width:110px;color:#444;letter-spacing:0px">Dashboard</div>
<div class="tab" style="left:348.0px;width:175.5px;color:#444;letter-spacing:0px">Production &amp; Sales</div>
<div class="r" style="left:527.40px;top:851.20px;width:170.60px;height:22.80px;background:#ffc000;"></div>
<div class="tab" style="left:523.9px;width:170.60000000000002px;color:#000;letter-spacing:0px">Income Statement</div>
<div class="r" style="left:703.20px;top:851.20px;width:187.80px;height:22.80px;background:#ffc000;"></div>
<div class="tab" style="left:701.7px;width:187.79999999999995px;color:#000;letter-spacing:-0.25px">Cash Flow Statement</div>
<div class="r" style="left:896.50px;top:851.20px;width:129.50px;height:22.80px;background:#ffc000;"></div>
<div class="tab" style="left:895.5px;width:129.5px;color:#000;letter-spacing:-0.35px">Balance Sheet</div>
<div class="r" style="left:1028px;top:848px;width:157px;height:26px;background:#fff;border-left:1px solid #ababab;border-right:1px solid #ababab;"></div>
<div class="r" style="left:1029.00px;top:871.50px;width:155.00px;height:2.50px;background:#217346;"></div>
<div class="tab" style="left:1027px;width:157px;color:#217346;font-weight:bold;font-size:17.6px">Working Capital</div>
<div class="tab" style="left:1184.5px;width:61px;color:#444;letter-spacing:-0.3px">KPI's</div>
<div class="r" style="left:1246.00px;top:852.00px;width:1.00px;height:21.00px;background:#c6c6c6;"></div>
<svg style="position:absolute;left:1250px;top:849px" width="120" height="25"><rect x="11" y="14" width="2" height="2" fill="#0e5c2c"/><rect x="16" y="14" width="2" height="2" fill="#0e5c2c"/><rect x="21" y="14" width="2" height="2" fill="#0e5c2c"/><circle cx="46" cy="14" r="9.5" fill="none" stroke="#767676" stroke-width="1.3"/><line x1="40.5" y1="14" x2="51.5" y2="14" stroke="#767676" stroke-width="1.6"/><line x1="46" y1="8.5" x2="46" y2="19.5" stroke="#767676" stroke-width="1.6"/><rect x="74" y="9" width="2" height="2" fill="#aaa"/><rect x="74" y="13" width="2" height="2" fill="#aaa"/><rect x="74" y="17" width="2" height="2" fill="#aaa"/></svg>
<div class="r" style="left:1342.00px;top:853.00px;width:503.50px;height:19.00px;background:#e8e8e8;"></div>
<div class="r" style="left:1342px;top:853px;width:19px;height:19px;background:#fff;border:1px solid #c6c6c6"></div>
<svg style="position:absolute;left:1342px;top:853px" width="20" height="20"><polygon points="10.8,5 6,9.5 10.8,14" fill="#606060"/></svg>
<div class="r" style="left:1360.5px;top:853px;width:69.5px;height:19px;background:#fff;border:1px solid #a8a8a8"></div>
<div class="r" style="left:1827px;top:853px;width:19px;height:19px;background:#fff;border:1px solid #c6c6c6"></div>
<svg style="position:absolute;left:1827px;top:853px" width="20" height="20"><polygon points="8,5 12.8,9.5 8,14" fill="#606060"/></svg>
<div class="r" style="left:1848.00px;top:0.00px;width:9.00px;height:849.00px;background:#fff;"></div>
<div class="r" style="left:1851.00px;top:20.00px;width:6.00px;height:828.00px;background:#ebebeb;"></div>
<div class="r" style="left:1851px;top:1px;width:10px;height:19px;background:#fff;border:1px solid #c6c6c6"></div>
<div class="r" style="left:1856.00px;top:12.00px;width:1.00px;height:2.00px;background:#606060;"></div>
<div class="r" style="left:1851px;top:20px;width:10px;height:240px;background:#fff;border:1px solid #ababab"></div>
<div class="r" style="left:1851px;top:829px;width:10px;height:19px;background:#fff;border:1px solid #c6c6c6"></div>
</body></html>
